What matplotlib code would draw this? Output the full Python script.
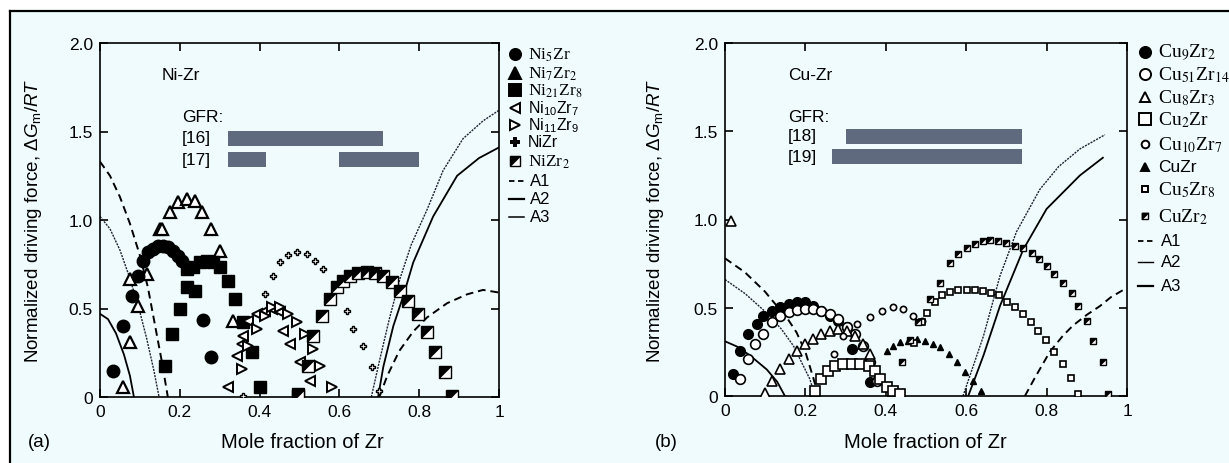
import numpy as np
import matplotlib.pyplot as plt
from matplotlib.lines import Line2D
from matplotlib.patches import Rectangle

plt.rcParams["font.family"] = ["Liberation Sans", "DejaVu Sans"]
plt.rcParams["mathtext.fontset"] = "custom"
plt.rcParams["mathtext.rm"] = "Liberation Sans"
plt.rcParams["mathtext.it"] = "Liberation Sans:italic"

# ---------------- panel (a): Ni-Zr ----------------
a_A1_left_x = [0, 0.025, 0.05, 0.075, 0.1, 0.12, 0.14, 0.155, 0.17]
a_A1_left_y = [1.33, 1.25, 1.13, 0.98, 0.80, 0.62, 0.38, 0.2, 0.0]
a_A1_right_x = [0.70, 0.72, 0.75, 0.785, 0.82, 0.87, 0.92, 0.96, 1.0]
a_A1_right_y = [0.0, 0.12, 0.26, 0.37, 0.45, 0.53, 0.58, 0.605, 0.59]
a_A2_left_x = [0, 0.02, 0.04, 0.06, 0.075, 0.085]
a_A2_left_y = [0.47, 0.44, 0.36, 0.24, 0.12, 0.0]
a_A2_right_x = [0.697, 0.71, 0.735, 0.76, 0.785, 0.835, 0.895, 0.95, 1.0]
a_A2_right_y = [0.0, 0.17, 0.40, 0.57, 0.76, 1.02, 1.25, 1.35, 1.41]
a_A3_left_x = [0, 0.025, 0.05, 0.075, 0.1, 0.117, 0.135, 0.148]
a_A3_left_y = [1.02, 0.95, 0.83, 0.67, 0.48, 0.33, 0.15, 0.0]
a_A3_right_x = [0.68, 0.70, 0.725, 0.752, 0.78, 0.82, 0.86, 0.91, 0.96, 1.0]
a_A3_right_y = [0.0, 0.2, 0.44, 0.67, 0.86, 1.06, 1.28, 1.46, 1.56, 1.62]

ni5zr_x = [0.033, 0.057, 0.079, 0.096, 0.109, 0.121, 0.134, 0.146, 0.159, 0.171,
           0.184, 0.196, 0.205, 0.259, 0.278]
ni5zr_y = [0.149, 0.403, 0.572, 0.686, 0.77, 0.817, 0.836, 0.851, 0.855, 0.845,
           0.827, 0.798, 0.77, 0.437, 0.224]
ni7zr2_x = [0.057, 0.075, 0.096, 0.075, 0.117, 0.150, 0.155, 0.175, 0.195, 0.218,
            0.238, 0.255, 0.278, 0.301, 0.334]
ni7zr2_y = [0.055, 0.309, 0.516, 0.667, 0.695, 0.949, 0.95, 1.045, 1.10, 1.12,
            1.11, 1.045, 0.95, 0.827, 0.43]
ni21zr8_x = [0.163, 0.180, 0.2, 0.217, 0.238, 0.217, 0.234, 0.251, 0.267, 0.284,
             0.301, 0.322, 0.339, 0.359, 0.380, 0.401, 0.497]
ni21zr8_y = [0.177, 0.356, 0.497, 0.62, 0.60, 0.723, 0.733, 0.761, 0.77, 0.761,
             0.733, 0.657, 0.554, 0.422, 0.252, 0.055, 0.017]
ni10zr7_x = [0.322, 0.343, 0.355, 0.359, 0.372, 0.393, 0.413, 0.430, 0.451, 0.459,
             0.476, 0.501, 0.526]
ni10zr7_y = [0.055, 0.234, 0.30, 0.347, 0.431, 0.469, 0.488, 0.497, 0.478, 0.375,
             0.30, 0.196, 0.092]
ni11zr9_x = [0.355, 0.372, 0.393, 0.413, 0.430, 0.451, 0.472, 0.493, 0.514, 0.535,
             0.551, 0.581]
ni11zr9_y = [0.158, 0.29, 0.384, 0.46, 0.507, 0.507, 0.469, 0.422, 0.356, 0.271,
             0.177, 0.055]
nizr_x = [0.359, 0.413, 0.434, 0.451, 0.472, 0.493, 0.518, 0.539, 0.56, 0.618,
          0.635, 0.66, 0.681, 0.698]
nizr_y = [0.008, 0.58, 0.686, 0.76, 0.80, 0.817, 0.808, 0.77, 0.723, 0.488,
          0.384, 0.29, 0.168, 0.036]
nizr2_x = [0.497, 0.522, 0.535, 0.556, 0.576, 0.593, 0.610, 0.627, 0.647, 0.668,
           0.689, 0.71, 0.731, 0.752, 0.773, 0.798, 0.819, 0.84, 0.865, 0.881]
nizr2_y = [0.008, 0.177, 0.347, 0.46, 0.554, 0.62, 0.657, 0.682, 0.70, 0.708,
           0.70, 0.682, 0.648, 0.60, 0.544, 0.469, 0.365, 0.252, 0.139, 0.008]

a_gfr_labels = ["[16]", "[17]"]
a_gfr_y = [1.46, 1.34]
a_gfr_spans = [[(0.32, 0.71)], [(0.32, 0.415), (0.60, 0.80)]]

# ---------------- panel (b): Cu-Zr ----------------
b_A1_left_x = [0, 0.05, 0.1, 0.129, 0.155, 0.178, 0.2, 0.22, 0.232]
b_A1_left_y = [0.78, 0.70, 0.59, 0.51, 0.44, 0.36, 0.25, 0.10, 0.0]
b_A1_right_x = [0.746, 0.77, 0.808, 0.84, 0.866, 0.9, 0.933, 0.96, 0.99]
b_A1_right_y = [0.0, 0.10, 0.25, 0.34, 0.40, 0.46, 0.51, 0.56, 0.60]
b_A2_left_x = [0, 0.05, 0.104, 0.14, 0.17, 0.195, 0.211, 0.224]
b_A2_left_y = [0.66, 0.58, 0.47, 0.38, 0.285, 0.17, 0.096, 0.0]
b_A2_right_x = [0.592, 0.61, 0.643, 0.684, 0.725, 0.783, 0.83, 0.883, 0.945]
b_A2_right_y = [0.0, 0.12, 0.34, 0.68, 0.93, 1.17, 1.30, 1.40, 1.48]
b_A3_left_x = [0, 0.03, 0.062, 0.104, 0.13, 0.149]
b_A3_left_y = [0.31, 0.28, 0.23, 0.15, 0.08, 0.0]
b_A3_right_x = [0.605, 0.62, 0.643, 0.684, 0.742, 0.8, 0.883, 0.94]
b_A3_right_y = [0.0, 0.09, 0.23, 0.51, 0.83, 1.06, 1.25, 1.35]

cu9zr2_x = [0.021, 0.037, 0.058, 0.079, 0.095, 0.116, 0.137, 0.158, 0.178, 0.199,
            0.22, 0.24, 0.261, 0.282, 0.303, 0.315, 0.361]
cu9zr2_y = [0.125, 0.257, 0.351, 0.408, 0.455, 0.483, 0.502, 0.521, 0.534, 0.531,
            0.512, 0.483, 0.455, 0.427, 0.389, 0.266, 0.077]
cu51zr14_x = [0.037, 0.058, 0.075, 0.095, 0.116, 0.137, 0.158, 0.178, 0.199, 0.22,
              0.24, 0.261, 0.282, 0.303, 0.323, 0.344, 0.361, 0.377]
cu51zr14_y = [0.096, 0.21, 0.295, 0.351, 0.417, 0.455, 0.474, 0.489, 0.493, 0.493,
              0.483, 0.465, 0.436, 0.389, 0.351, 0.285, 0.191, 0.087]
cu8zr3_x = [0.015, 0.1, 0.116, 0.137, 0.158, 0.178, 0.199, 0.22, 0.24, 0.261,
            0.282, 0.303, 0.323, 0.344, 0.361]
cu8zr3_y = [0.99, 0.017, 0.087, 0.153, 0.21, 0.257, 0.295, 0.323, 0.351, 0.37,
            0.38, 0.37, 0.342, 0.295, 0.238]
cu2zr_x = [0.224, 0.24, 0.257, 0.274, 0.294, 0.315, 0.336, 0.357, 0.373, 0.386,
           0.402, 0.419, 0.435]
cu2zr_y = [0.03, 0.096, 0.144, 0.172, 0.181, 0.181, 0.181, 0.172, 0.144, 0.096,
           0.049, 0.03, 0.011]
cu10zr7_x = [0.27, 0.294, 0.328, 0.361, 0.39, 0.419, 0.444, 0.468, 0.489]
cu10zr7_y = [0.24, 0.342, 0.408, 0.446, 0.483, 0.502, 0.493, 0.455, 0.427]
cuzr_x = [0.402, 0.419, 0.435, 0.456, 0.477, 0.498, 0.518, 0.535, 0.556, 0.576,
          0.597, 0.618, 0.638]
cuzr_y = [0.257, 0.285, 0.304, 0.313, 0.323, 0.313, 0.295, 0.276, 0.238, 0.191,
          0.134, 0.087, 0.03]
cu5zr8_x = [0.47, 0.49, 0.502, 0.522, 0.541, 0.56, 0.58, 0.601, 0.622, 0.641,
            0.661, 0.682, 0.702, 0.721, 0.742, 0.761, 0.779, 0.798, 0.818, 0.84,
            0.86, 0.878]
cu5zr8_y = [0.30, 0.42, 0.47, 0.535, 0.57, 0.587, 0.60, 0.602, 0.602, 0.597,
            0.584, 0.57, 0.535, 0.503, 0.462, 0.417, 0.37, 0.319, 0.251, 0.181,
            0.10, 0.011]
cuzr2_x = [0.44, 0.46, 0.48, 0.51, 0.535, 0.56, 0.58, 0.601, 0.622, 0.641,
           0.659, 0.68, 0.70, 0.721, 0.742, 0.763, 0.78, 0.80, 0.818, 0.84,
           0.862, 0.879, 0.90, 0.916, 0.94, 0.953]
cuzr2_y = [0.19, 0.32, 0.42, 0.55, 0.64, 0.755, 0.803, 0.84, 0.859, 0.877,
           0.885, 0.879, 0.866, 0.851, 0.836, 0.81, 0.776, 0.735, 0.69, 0.639,
           0.584, 0.512, 0.425, 0.31, 0.19, 0.01]

b_gfr_labels = ["[18]", "[19]"]
b_gfr_y = [1.47, 1.357]
b_gfr_spans = [[(0.30, 0.74)], [(0.266, 0.74)]]

x_ticks = [0, 0.2, 0.4, 0.6, 0.8, 1.0]
x_ticklabels = ["0", "0.2", "0.4", "0.6", "0.8", "1"]
y_ticks = [0, 0.5, 1.0, 1.5, 2.0]
y_ticklabels = ["0", "0.5", "1.0", "1.5", "2.0"]

# ---------------- drawing ----------------
W, H = 1229, 464
fig = plt.figure(figsize=(W / 100, H / 100), dpi=100, facecolor="white")
bg_color = "#effbfc"
bar_color = "#5f6a7e"

bg = fig.add_axes([0, 0, 1, 1], zorder=-10)
bg.set_xlim(0, W)
bg.set_ylim(H, 0)
bg.axis("off")
bg.add_patch(Rectangle((10, 12), W, H, facecolor=bg_color, edgecolor="none"))
bg.plot([10, 10], [12, H], color="black", lw=1.6)
bg.plot([10, W], [12, 12], color="black", lw=1.6)

# half-filled square marker (upper-left triangle)
half_tri = [(-1, -1), (-1, 1), (1, 1), (-1, -1)]


def half_square(ax, x, y, ms):
    ax.plot(x, y, "s", ms=ms, mfc="white", mec="black", mew=1.0, ls="none", zorder=4)
    ax.plot(x, y, marker=half_tri, ms=ms, mfc="black", mec="black", mew=0.5,
            ls="none", zorder=4)


def setup_axes(ax):
    ax.set_facecolor("none")
    ax.set_xlim(0, 1)
    ax.set_ylim(0, 2)
    ax.set_xticks(x_ticks)
    ax.set_xticklabels(x_ticklabels)
    ax.set_yticks(y_ticks)
    ax.set_yticklabels(y_ticklabels)
    ax.tick_params(direction="in", length=6, width=1.2, top=True, right=True,
                   labelsize=12.5, pad=5)
    for s in ax.spines.values():
        s.set_linewidth(1.2)


axA = fig.add_axes([100 / W, 1 - 398 / H, 399 / W, 354 / H])
axB = fig.add_axes([725 / W, 1 - 397 / H, 402 / W, 353 / H])
for ax in (axA, axB):
    setup_axes(ax)

# curves (a)
dash = (0, (4, 2.5))
fine = (0, (1.5, 0.8))
axA.plot(a_A1_left_x, a_A1_left_y, color="black", lw=1.4, ls=dash)
axA.plot(a_A1_right_x, a_A1_right_y, color="black", lw=1.4, ls=dash)
axA.plot(a_A2_left_x, a_A2_left_y, color="black", lw=1.3)
axA.plot(a_A2_right_x, a_A2_right_y, color="black", lw=1.3)
axA.plot(a_A3_left_x, a_A3_left_y, color="#222233", lw=1.0, ls=fine)
axA.plot(a_A3_right_x, a_A3_right_y, color="#222233", lw=1.0, ls=fine)

axA.plot(ni7zr2_x, ni7zr2_y, "^", ms=8, mfc="white", mec="black", mew=1.6, ls="none", zorder=3)
axA.plot(ni5zr_x, ni5zr_y, "o", ms=9, mfc="black", mec="black", ls="none", zorder=3)
axA.plot(ni21zr8_x, ni21zr8_y, "s", ms=9, mfc="black", mec="black", ls="none", zorder=3)
axA.plot(ni10zr7_x, ni10zr7_y, "<", ms=7, mfc="white", mec="black", mew=1.4, ls="none", zorder=3)
axA.plot(ni11zr9_x, ni11zr9_y, ">", ms=7, mfc="white", mec="black", mew=1.4, ls="none", zorder=3)
axA.plot(nizr_x, nizr_y, "P", ms=5, mfc="white", mec="black", mew=1.0, ls="none", zorder=3)
half_square(axA, nizr2_x, nizr2_y, 8)

for lab, yv, spans in zip(a_gfr_labels, a_gfr_y, a_gfr_spans):
    for x0, x1 in spans:
        axA.add_patch(Rectangle((x0, yv - 0.042), x1 - x0, 0.084,
                                facecolor=bar_color, edgecolor="none"))

# curves (b)
axB.plot(b_A1_left_x, b_A1_left_y, color="black", lw=1.4, ls=dash)
axB.plot(b_A1_right_x, b_A1_right_y, color="black", lw=1.4, ls=dash)
axB.plot(b_A2_left_x, b_A2_left_y, color="#222233", lw=1.0, ls=fine)
axB.plot(b_A2_right_x, b_A2_right_y, color="#222233", lw=1.0, ls=fine)
axB.plot(b_A3_left_x, b_A3_left_y, color="black", lw=1.3)
axB.plot(b_A3_right_x, b_A3_right_y, color="black", lw=1.3)

axB.plot(cu9zr2_x, cu9zr2_y, "o", ms=7, mfc="black", mec="black", ls="none", zorder=3)
axB.plot(cu51zr14_x, cu51zr14_y, "o", ms=7, mfc="white", mec="black", mew=1.2, ls="none", zorder=3)
axB.plot(cu8zr3_x, cu8zr3_y, "^", ms=7, mfc="white", mec="black", mew=1.2, ls="none", zorder=3)
axB.plot(cu2zr_x, cu2zr_y, "s", ms=7, mfc="white", mec="black", mew=1.2, ls="none", zorder=3)
axB.plot(cu10zr7_x, cu10zr7_y, "o", ms=4.5, mfc="white", mec="black", mew=1.2, ls="none", zorder=3)
axB.plot(cuzr_x, cuzr_y, "^", ms=4.5, mfc="black", mec="black", ls="none", zorder=3)
axB.plot(cu5zr8_x, cu5zr8_y, "s", ms=4.5, mfc="white", mec="black", mew=1.2, ls="none", zorder=3)
half_square(axB, cuzr2_x, cuzr2_y, 4.5)

for lab, yv, spans in zip(b_gfr_labels, b_gfr_y, b_gfr_spans):
    for x0, x1 in spans:
        axB.add_patch(Rectangle((x0, yv - 0.042), x1 - x0, 0.084,
                                facecolor=bar_color, edgecolor="none"))

ylab = r"Normalized driving force, $\Delta G_\mathrm{m}/RT$"
axA.set_ylabel(ylab, fontsize=13.5)
axB.set_ylabel(ylab, fontsize=13.5)
axA.yaxis.set_label_coords((44 - 100) / 399, 0.5)
axB.yaxis.set_label_coords((666 - 725) / 402, 0.5)

# ---------------- overlay: texts and legends ----------------
ov = fig.add_axes([0, 0, 1, 1], zorder=10)
ov.set_xlim(0, W)
ov.set_ylim(H, 0)
ov.axis("off")
ov.patch.set_alpha(0)

ov.text(162, 75, "Ni-Zr", fontsize=12.5, va="center")
ov.text(182, 118, "GFR:", fontsize=12.5, va="center")
ov.text(788, 75, "Cu-Zr", fontsize=12.5, va="center")
ov.text(788, 117, "GFR:", fontsize=12.5, va="center")
for lab, py in zip(a_gfr_labels, [139, 161]):
    ov.text(182, py, lab, fontsize=12.5, va="center")
for lab, py in zip(b_gfr_labels, [137, 158]):
    ov.text(788, py, lab, fontsize=12.5, va="center")

ov.text(302, 443, "Mole fraction of Zr", fontsize=14.5, ha="center", va="center")
ov.text(925, 443, "Mole fraction of Zr", fontsize=14.5, ha="center", va="center")
ov.text(28, 443, "(a)", fontsize=13.5, va="center")
ov.text(655, 443, "(b)", fontsize=13.5, va="center")

serif_a = dict(family=["Liberation Serif", "DejaVu Serif"], math_fontfamily="stix", fontsize=12.5)
sans_a = dict(family=["Liberation Sans", "DejaVu Sans"], math_fontfamily="custom", fontsize=11.5)
serif = dict(family=["Liberation Serif", "DejaVu Serif"], math_fontfamily="stix", fontsize=14)
sans = dict(family=["Liberation Sans", "DejaVu Sans"], math_fontfamily="custom", fontsize=12.5)

a_leg = [
    ("o", "black", r"Ni$_5$Zr", serif_a),
    ("^", "black", r"Ni$_7$Zr$_2$", serif_a),
    ("s", "black", r"Ni$_{21}$Zr$_8$", serif_a),
    ("<", "white", r"Ni$_{10}$Zr$_7$", sans_a),
    (">", "white", r"Ni$_{11}$Zr$_9$", sans_a),
    ("P", "white", "NiZr", sans_a),
    ("half", None, r"NiZr$_2$", serif_a),
]
a_leg_y = [55, 74, 91, 109, 126, 143, 162]
a_leg_ms = [8, 8, 9, 6.5, 6.5, 6, 7.5]
for (m, fc, lab, fp), py, ms in zip(a_leg, a_leg_y, a_leg_ms):
    if m == "half":
        half_square(ov, [515], [py], ms)
    else:
        ov.plot([515], [py], m, ms=ms, mfc=fc, mec="black", mew=1.4, ls="none")
    ov.text(528, py, lab, va="center", **fp)
for lab, py, ls, lw in zip(["A1", "A2", "A3"], [182, 200, 218],
                           [(0, (3, 2)), "-", "-"], [1.3, 1.6, 1.1]):
    ov.plot([509, 524], [py, py], color="black", ls=ls, lw=lw)
    ov.text(530, py, lab, fontsize=12, va="center")

b_leg = [
    ("o", "black", r"Cu$_9$Zr$_2$", serif, 8),
    ("o", "white", r"Cu$_{51}$Zr$_{14}$", serif, 8),
    ("^", "white", r"Cu$_8$Zr$_3$", serif, 7),
    ("s", "white", r"Cu$_2$Zr", serif, 8),
    ("o", "white", r"Cu$_{10}$Zr$_7$", serif, 5.5),
    ("^", "black", "CuZr", sans, 5.5),
    ("s", "white", r"Cu$_5$Zr$_8$", serif, 5),
    ("half", None, r"CuZr$_2$", serif, 5),
]
b_leg_y = [53, 75, 98, 120, 145, 168, 190, 217]
for (m, fc, lab, fp, ms), py in zip(b_leg, b_leg_y):
    if m == "half":
        half_square(ov, [1145], [py], ms)
    else:
        ov.plot([1145], [py], m, ms=ms, mfc=fc, mec="black", mew=1.4, ls="none")
    ov.text(1158, py, lab, va="center", **fp)
for lab, py, ls, lw in zip(["A1", "A2", "A3"], [242, 263, 287],
                           [(0, (3, 2)), "-", "-"], [1.3, 1.0, 1.6]):
    ov.plot([1138, 1153], [py, py], color="black", ls=ls, lw=lw)
    ov.text(1161, py, lab, fontsize=12, va="center")

fig.savefig("out.png", dpi=100, facecolor="white")
